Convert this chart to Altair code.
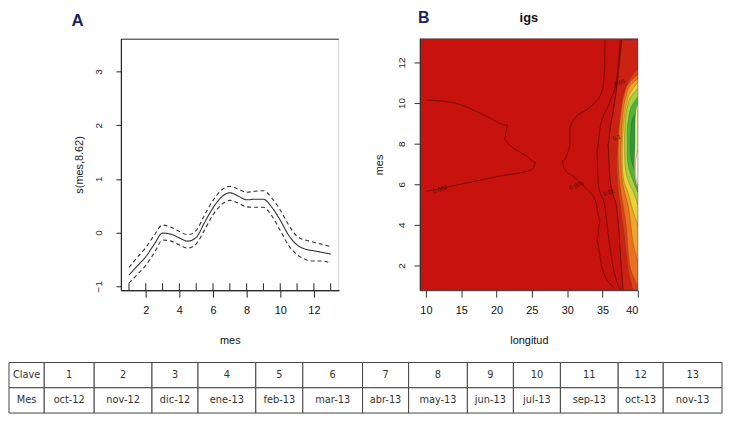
import altair as alt
import pandas as pd

# ---------------- Panel A: smooth term s(mes, 8.62) with +-2 SE bands ----------------
MES = [1, 1.5, 2, 2.5, 3, 3.5, 4, 4.5, 5, 5.5, 6, 6.5, 7, 7.5, 8, 8.5, 9, 9.5, 10, 10.5, 11, 11.5, 12, 12.5, 13]
FIT = [-0.79, -0.62, -0.45, -0.22, -0.01, -0.03, -0.10, -0.16, -0.09, 0.19, 0.46, 0.66, 0.74,
       0.68, 0.61, 0.62, 0.62, 0.47, 0.23, -0.05, -0.23, -0.31, -0.34, -0.37, -0.40]
UPPER = [-0.65, -0.46, -0.28, -0.05, 0.14, 0.10, 0.02, -0.04, 0.04, 0.33, 0.60, 0.79, 0.86,
         0.81, 0.75, 0.77, 0.78, 0.64, 0.42, 0.14, -0.07, -0.14, -0.18, -0.22, -0.26]
LOWER = [-0.94, -0.78, -0.61, -0.38, -0.14, -0.16, -0.23, -0.29, -0.21, 0.05, 0.33, 0.52, 0.60,
         0.55, 0.48, 0.47, 0.47, 0.31, 0.04, -0.24, -0.41, -0.50, -0.53, -0.53, -0.57]
RUG = [1, 2, 3, 4, 5, 6, 7, 8, 9, 10, 11, 12, 13]

# ---------------- Panel B: igs surface (longitud x mes) ----------------
# contour lines
LEFT_LON = [10.1, 14.1, 18.3, 21.6, 21.1, 21.8, 24.2, 25.6, 25.1, 20.4, 15.75, 10.1]
LEFT_MES = [10.15, 10.0, 9.4, 8.9, 8.2, 7.95, 7.4, 7.06, 6.73, 6.4, 6.06, 5.65]
MID_LON = [35.35, 35.3, 34.9, 33.0, 31.1, 30.4, 30.4, 29.3, 29.5, 31.1, 32.5, 34.0, 34.65, 34.2, 34.9, 36.5]
MID_MES = [13.1, 11.7, 10.55, 9.74, 9.25, 8.77, 7.95, 7.14, 6.8, 6.33, 5.84, 5.19, 4.2, 3.23, 1.93, 0.95]
C2_LON = [37.5, 37.0, 36.05, 34.65, 34.2, 34.4, 35.35, 35.8, 36.5, 37.5]
C2_MES = [13.1, 11.2, 10.06, 8.77, 7.6, 6.0, 4.86, 3.56, 1.93, 0.8]
C3_LON = [37.7, 37.4, 36.9, 36.5, 36.1, 35.8, 35.9, 36.05, 36.4, 37.0, 37.3, 37.5, 37.9]
C3_MES = [13.1, 12.0, 10.5, 9.58, 8.8, 7.95, 7.2, 6.33, 5.6, 4.86, 3.8, 2.75, 0.8]

# filled contour bands (left boundary; each band reaches the right edge at longitud 40)
L1_MES = C3_MES[::-1]
L1_LON = C3_LON[::-1]
L2_MES = [0.8, 1.5, 2.5, 3.5, 4.5, 5.3, 6.0, 7.0, 8.0, 9.0, 9.8, 10.6, 11.2, 11.7]
L2_LON = [39.3, 38.8, 38.4, 38.1, 37.7, 37.4, 37.1, 37.0, 37.1, 37.3, 37.6, 38.1, 38.9, 40]
L3_MES = [1.0, 1.8, 2.8, 3.8, 4.8, 5.6, 6.5, 7.5, 8.5, 9.5, 10.3, 11.0, 11.4]
L3_LON = [40, 39.0, 38.6, 38.4, 38.0, 37.6, 37.3, 37.2, 37.3, 37.6, 38.0, 38.8, 40]
L4_MES = [2.2, 3.0, 4.0, 5.0, 5.8, 6.5, 7.5, 8.5, 9.5, 10.3, 10.9, 11.2]
L4_LON = [40, 39.4, 39.0, 38.6, 38.0, 37.7, 37.6, 37.7, 37.9, 38.3, 39.0, 40]
L5_MES = [4.0, 4.8, 5.5, 6.2, 7.0, 8.0, 9.0, 9.8, 10.5, 11.0]
L5_LON = [40, 39.2, 38.7, 38.0, 37.8, 37.8, 38.0, 38.3, 38.9, 40]
L6_MES = [5.0, 5.6, 6.2, 7.0, 8.0, 9.0, 9.8, 10.3, 10.7]
L6_LON = [40, 39.4, 38.6, 38.2, 38.1, 38.2, 38.5, 39.0, 40]
L7_MES = [5.6, 6.1, 6.7, 7.5, 8.5, 9.3, 9.9, 10.3]
L7_LON = [40, 39.4, 38.8, 38.5, 38.5, 38.7, 39.2, 40]
L8_MES = [6.5, 7.0, 7.8, 8.6, 9.2, 9.6]
L8_LON = [40, 39.2, 38.9, 39.0, 39.2, 40]
L9_MES = [5.8, 6.3, 7.0, 8.0, 9.0, 9.6, 10.0]
L9_LON = [40, 39.6, 39.5, 39.6, 39.6, 39.7, 40]
L10_MES = [5.9, 6.3, 6.8, 7.3, 7.7]
L10_LON = [40, 39.75, 39.65, 39.75, 40]
LON_MAX = 40

LABEL_TEXT = ["0.002", "0.005", "0.01", "0.05", "0.1"]
LABEL_LON = [12.0, 31.3, 35.9, 37.4, 37.0]
LABEL_MES = [5.75, 5.95, 5.6, 11.0, 8.3]

# ---------------- Table ----------------
ROW_NAMES = ["Clave", "Mes"]
CLAVE = ["1", "2", "3", "4", "5", "6", "7", "8", "9", "10", "11", "12", "13"]
MESES = ["oct-12", "nov-12", "dic-12", "ene-13", "feb-13", "mar-13", "abr-13",
         "may-13", "jun-13", "jul-13", "sep-13", "oct-13", "nov-13"]

# ---------------- layout / style ----------------
COL_WIDTHS = [36, 51, 59, 47, 59, 48, 61, 47, 60, 47, 48, 59, 46, 60]
BAND_COLORS = ["#cc2213", "#d8441a", "#e8721f", "#f0a42c", "#e6d23a", "#a8d040", "#4cb63c",
               "#2c9a38", "#e8ee9a", "#f8f8e8"]
RED = "#c8120e"
NAVY = "#1b1f63"
FONT = "Liberation Sans"
NARROW = "Liberation Sans Narrow, DejaVu Sans Condensed, Liberation Sans"
PLOT_H = 254

# ================= Panel A =================
dfA = pd.DataFrame({"mes": MES, "fit": FIT, "upper": UPPER, "lower": LOWER})
longA = dfA.melt(id_vars="mes", value_vars=["fit", "upper", "lower"], var_name="serie", value_name="valor")

xA = alt.X("mes:Q", scale=alt.Scale(domain=[0.52, 13.48], nice=False, zero=False),
           axis=alt.Axis(values=[2, 4, 6, 8, 10, 12], title="mes", grid=False, labelOverlap=False,
                         tickSize=7, labelPadding=8, titlePadding=19,
                         labelFontSize=11, titleFontSize=11, labelFont=FONT, titleFont=FONT,
                         labelColor="#111", titleColor="#111", titleFontWeight="normal",
                         domainColor="#222", tickColor="#222"))
yA = alt.Y("valor:Q", scale=alt.Scale(domain=[-1.074, 3.61], nice=False, zero=False),
           axis=alt.Axis(values=[-1, 0, 1, 2, 3], title="s(mes,8.62)", grid=False, labelAngle=270,
                         labelOverlap=False, tickSize=5, labelPadding=13, titlePadding=9,
                         labelFontSize=10, titleFontSize=11, labelFont=FONT, titleFont=FONT,
                         labelColor="#222", titleColor="#222", titleFontWeight="normal",
                         domainColor="#222", tickColor="#222"))

linesA = alt.Chart(longA).mark_line(color="#333", strokeWidth=1.1, interpolate="monotone").encode(
    x=xA, y=yA,
    detail="serie:N",
    strokeDash=alt.StrokeDash("serie:N", scale=alt.Scale(domain=["fit", "upper", "lower"],
                                                          range=[[1, 0], [4, 3], [4, 3]]), legend=None),
)
rugA = alt.Chart(pd.DataFrame({"mes": RUG})).mark_rule(color="#222", strokeWidth=1).encode(
    x=xA, y=alt.value(PLOT_H), y2=alt.value(PLOT_H - 7))

chartA = alt.layer(linesA, rugA).properties(
    width=220, height=PLOT_H,
    view=alt.ViewBackground(fill="white", stroke="#222", strokeWidth=1),
    title=alt.TitleParams("A", anchor="start", frame="group", dx=-50, offset=-4, baseline="alphabetic",
                          fontSize=17, fontWeight="bold", color=NAVY, font=FONT),
)

# ================= Panel B =================
xB = alt.X("lon:Q", scale=alt.Scale(domain=[9.16, 40.0], nice=False, zero=False),
           axis=alt.Axis(values=[10, 15, 20, 25, 30, 35, 40], title="longitud", grid=False,
                         labelOverlap=False, tickSize=7, labelPadding=7, titlePadding=20,
                         labelFontSize=11, titleFontSize=11, labelFont=FONT, titleFont=FONT,
                         labelColor="#111", titleColor="#111", titleFontWeight="normal",
                         domainColor="#333", tickColor="#333"))
yB = alt.Y("mes:Q", scale=alt.Scale(domain=[0.78, 13.17], nice=False, zero=False),
           axis=alt.Axis(values=[2, 4, 6, 8, 10, 12], title="mes", grid=False, labelAngle=270,
                         labelOverlap=False, tickSize=6, labelPadding=8, titlePadding=12,
                         labelFontSize=10, titleFontSize=11, labelFont=FONT, titleFont=FONT,
                         labelColor="#222", titleColor="#222", titleFontWeight="normal",
                         domainColor="#333", tickColor="#333"))

bands = [(L1_LON, L1_MES), (L2_LON, L2_MES), (L3_LON, L3_MES), (L4_LON, L4_MES),
         (L5_LON, L5_MES), (L6_LON, L6_MES), (L7_LON, L7_MES), (L8_LON, L8_MES),
         (L9_LON, L9_MES), (L10_LON, L10_MES)]
band_layers = []
for k, (lons, mess) in enumerate(bands):
    dfk = pd.DataFrame({"lon": lons, "mes": mess})
    band_layers.append(
        alt.Chart(dfk).mark_area(orient="horizontal", interpolate="monotone", clip=True,
                                 color=BAND_COLORS[k], stroke="#6a2810", strokeWidth=0.5,
                                 strokeOpacity=0.55).encode(
            x=xB, x2=alt.datum(LON_MAX), y=yB)
    )

contours = []
for name, lons, mess in [("left", LEFT_LON, LEFT_MES), ("mid", MID_LON, MID_MES),
                         ("c2", C2_LON, C2_MES), ("c3", C3_LON, C3_MES)]:
    for i, (lo, me) in enumerate(zip(lons, mess)):
        contours.append({"contour": name, "i": i, "lon": lo, "mes": me})
dfC = pd.DataFrame(contours)
linesB = alt.Chart(dfC).mark_line(color="#5a0c06", strokeWidth=0.7, interpolate="monotone",
                                  clip=True).encode(
    x=xB, y=yB, detail="contour:N", order="i:Q")

dfL = pd.DataFrame({"lon": LABEL_LON, "mes": LABEL_MES, "txt": LABEL_TEXT})
labelsB = alt.Chart(dfL).mark_text(fontSize=6, color="#4a0a04", font=FONT, angle=340).encode(
    x=xB, y=yB, text="txt:N")

chartB = alt.layer(*band_layers, linesB, labelsB).properties(
    width=220, height=PLOT_H,
    view=alt.ViewBackground(fill=RED, stroke="#333", strokeWidth=0.5),
    title=alt.TitleParams("igs", anchor="middle", frame="group", offset=4, baseline="alphabetic",
                          fontSize=13, fontWeight="bold", color="#111", font=FONT),
)

# ================= spacers =================
spacer_df = pd.DataFrame({"v": [0]})


def spacer(w, title=None):
    c = alt.Chart(spacer_df).mark_point(opacity=0).encode(
        x=alt.X("v:Q", axis=None), y=alt.Y("v:Q", axis=None))
    props = dict(width=w, height=PLOT_H, view=alt.ViewBackground(strokeWidth=0, fill="white"))
    if title is not None:
        props["title"] = title
    return c.properties(**props)


spacer1 = spacer(113)
spacer2 = spacer(82, alt.TitleParams("B", anchor="end", frame="group", align="left", dx=-2, offset=0,
                                     baseline="alphabetic", fontSize=16, fontWeight="bold",
                                     color=NAVY, font=FONT))

# ================= Table =================
edges = [0]
for w in COL_WIDTHS:
    edges.append(edges[-1] + w)
cells = []
for c in range(len(COL_WIDTHS)):
    for r, rname in enumerate(ROW_NAMES):
        if c == 0:
            txt = rname
        else:
            txt = CLAVE[c - 1] if r == 0 else MESES[c - 1]
        cells.append({"x0": edges[c], "x1": edges[c + 1], "xm": (edges[c] + edges[c + 1]) / 2,
                      "row": rname, "txt": txt})
dfT = pd.DataFrame(cells)
xT = alt.X("x0:Q", scale=alt.Scale(domain=[0, edges[-1]], nice=False, zero=False), axis=None)
yT = alt.Y("row:N", scale=alt.Scale(domain=ROW_NAMES, paddingInner=0, paddingOuter=0), axis=None)
rectT = alt.Chart(dfT).mark_rect(fill="white", stroke="#444", strokeWidth=1).encode(
    x=xT, x2="x1:Q", y=yT)
textT = alt.Chart(dfT).mark_text(font=NARROW, fontSize=11, color="#333").encode(
    x=alt.X("xm:Q", scale=alt.Scale(domain=[0, edges[-1]], nice=False, zero=False), axis=None),
    y=yT, text="txt:N")
table = alt.layer(rectT, textT).properties(
    width=720, height=51, view=alt.ViewBackground(strokeWidth=0, fill="white"))

# ================= assemble =================
row1 = alt.hconcat(spacer1, chartA, spacer2, chartB, spacing=0, bounds="flush")
chart = alt.vconcat(row1, table, spacing=PLOT_H + 73, bounds="flush").properties(
    padding={"left": 0, "top": 0, "right": 0, "bottom": 0},
    background="white",
)

chart.save("out.html", embed_options={"renderer": "svg", "actions": False})
